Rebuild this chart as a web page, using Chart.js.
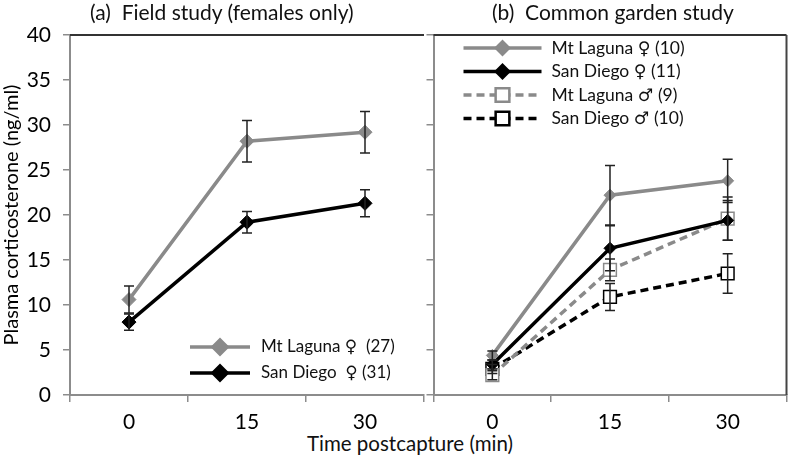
<!DOCTYPE html>
<html lang="en">
<head>
    <meta charset="UTF-8">
    <title>Plasma corticosterone</title>
    <script src="https://cdn.jsdelivr.net/npm/chart.js@4"></script>
    <style>
        body {
            margin: 0;
            background: #fff;
            width: 797px;
            height: 457px;
            position: relative;
            overflow: hidden;
            font-family: Lato, "DejaVu Sans", sans-serif;
        }
        .panel {
            position: absolute;
            top: 0;
            height: 430px;
        }
        #leftBox { left: 0; width: 432px; }
        #rightBox { left: 423px; width: 374px; }
        .heading {
            position: absolute;
            top: -1px;
            font-size: 21px;
            color: #111;
            white-space: nowrap;
        }
        #xTitle {
            position: absolute;
            top: 431px;
            left: 0;
            width: 820px;
            text-align: center;
            font-size: 20.5px;
            color: #111;
        }
    </style>
</head>
<body>
    <div id="leftBox" class="panel"><canvas id="leftChart"></canvas></div>
    <div id="rightBox" class="panel"><canvas id="rightChart"></canvas></div>
    <div class="heading" style="left:90px">(a)&nbsp; Field study (females only)</div>
    <div class="heading" style="left:492px">(b)&nbsp; Common garden study</div>
    <div id="xTitle">Time postcapture (min)</div>

    <script>
        // data
        var times = ['0', '15', '30'];
        var yTicks = [0, 5, 10, 15, 20, 25, 30, 35, 40];

        // (a) field study, females only
        var fieldLaguna = [10.6, 28.2, 29.2];
        var fieldLagunaErr = [1.5, 2.3, 2.3];
        var fieldSanDiego = [8.1, 19.2, 21.3];
        var fieldSanDiegoErr = [0.9, 1.2, 1.5];

        // (b) common garden study
        var gardenLagunaF = [4.4, 22.2, 23.8];
        var gardenLagunaFErr = [0.5, 3.3, 2.4];
        var gardenSanDiegoF = [3.4, 16.3, 19.4];
        var gardenSanDiegoFErr = [0.5, 2.5, 2.2];
        var gardenLagunaM = [2.2, 13.9, 19.6];
        var gardenLagunaMErr = [0.5, 1.2, 2.4];
        var gardenSanDiegoM = [2.9, 10.9, 13.5];
        var gardenSanDiegoMErr = [0.5, 1.5, 2.2];

        var GREY = '#8a8a8a';
        var BLACK = '#000000';
        var AXIS = '#8c8c8c';
        var FONT = 'Lato, "DejaVu Sans", sans-serif';

        // error bars drawn from each dataset's errors array
        var errorBars = {
            id: 'errorBars',
            afterDatasetsDraw: function(chart) {
                var ctx = chart.ctx;
                var yScale = chart.scales.y;
                ctx.save();
                chart.data.datasets.forEach(function(ds, i) {
                    var meta = chart.getDatasetMeta(i);
                    meta.data.forEach(function(pt, j) {
                        var err = ds.errors[j];
                        var top = yScale.getPixelForValue(ds.data[j] + err);
                        var bot = yScale.getPixelForValue(ds.data[j] - err);
                        ctx.strokeStyle = '#222';
                        ctx.lineWidth = 1.5;
                        ctx.beginPath();
                        ctx.moveTo(pt.x, top); ctx.lineTo(pt.x, bot);
                        ctx.moveTo(pt.x - 5, top); ctx.lineTo(pt.x + 5, top);
                        ctx.moveTo(pt.x - 5, bot); ctx.lineTo(pt.x + 5, bot);
                        ctx.stroke();
                    });
                });
                ctx.restore();
            }
        };

        // frame: dark top edge, right edge as given
        var frame = {
            id: 'frame',
            afterDraw: function(chart, args, opts) {
                var a = chart.chartArea;
                var ctx = chart.ctx;
                ctx.save();
                ctx.lineWidth = 2;
                ctx.strokeStyle = '#333';
                ctx.beginPath();
                ctx.moveTo(a.left, a.top); ctx.lineTo(a.right, a.top);
                ctx.stroke();
                if (opts.right) {
                    ctx.strokeStyle = '#444';
                    ctx.beginPath();
                    ctx.moveTo(a.right, a.top); ctx.lineTo(a.right, a.bottom);
                    ctx.stroke();
                }
                ctx.restore();
            }
        };

        // legend drawn inside the plot area
        var innerLegend = {
            id: 'innerLegend',
            afterDraw: function(chart, args, opts) {
                var a = chart.chartArea;
                var ctx = chart.ctx;
                ctx.save();
                chart.data.datasets.forEach(function(ds, i) {
                    var x0 = a.left + opts.x;
                    var y = a.top + opts.y + i * opts.row;
                    ctx.strokeStyle = ds.borderColor;
                    ctx.lineWidth = ds.borderWidth;
                    ctx.setLineDash(ds.borderDash || []);
                    ctx.beginPath();
                    ctx.moveTo(x0, y); ctx.lineTo(x0 + opts.len, y);
                    ctx.stroke();
                    ctx.setLineDash([]);
                    Chart.helpers.drawPoint(ctx, {
                        pointStyle: ds.pointStyle,
                        radius: ds.pointRadius,
                        borderWidth: ds.pointBorderWidth
                    }, x0 + opts.len / 2, y);
                    ctx.fillStyle = ds.pointBackgroundColor;
                    ctx.strokeStyle = ds.pointBorderColor;
                    ctx.lineWidth = ds.pointBorderWidth;
                    ctx.fill();
                    ctx.stroke();
                    ctx.fillStyle = '#111';
                    ctx.font = opts.font;
                    ctx.textBaseline = 'middle';
                    ctx.fillText(ds.label, x0 + opts.len + opts.gap, y);
                });
                ctx.restore();
            }
        };

        function series(label, data, errors, color, filled, dashed, radius) {
            return {
                label: label,
                data: data,
                errors: errors,
                borderColor: color,
                borderWidth: 3.5,
                borderDash: dashed ? [8, 5] : [],
                pointStyle: filled ? 'rectRot' : 'rect',
                pointRadius: radius,
                pointHoverRadius: radius,
                pointBackgroundColor: filled ? color : '#ffffff',
                pointBorderColor: color,
                pointBorderWidth: filled ? 1 : 1.5,
                fill: false,
                tension: 0
            };
        }

        function yAxis(showLabels, width) {
            return {
                min: 0,
                max: 40,
                afterBuildTicks: function(axis) {
                    axis.ticks = yTicks.map(function(v) { return { value: v }; });
                },
                afterFit: function(axis) { axis.width = width; },
                ticks: {
                    display: showLabels,
                    color: '#000',
                    padding: 12,
                    font: { family: FONT, size: 21 }
                },
                grid: { drawOnChartArea: false, drawTicks: true, tickLength: 7, color: AXIS, lineWidth: 1.5 },
                border: { display: true, color: AXIS, width: 2 },
                title: {
                    display: showLabels,
                    text: 'Plasma corticosterone (ng/ml)',
                    color: '#000',
                    font: { family: FONT, size: 20 },
                    padding: { top: 0, bottom: 0 }
                }
            };
        }

        function xAxis() {
            return {
                type: 'category',
                offset: true,
                afterFit: function(axis) { axis.height = 35; },
                ticks: {
                    color: '#000',
                    padding: 8,
                    font: { family: FONT, size: 21 }
                },
                grid: { offset: true, drawOnChartArea: false, drawTicks: true, tickLength: 7, color: AXIS, lineWidth: 1.5 },
                border: { display: true, color: AXIS, width: 2 }
            };
        }

        function baseOptions(yShow, yWidth, legendOpts, rightEdge) {
            return {
                responsive: true,
                maintainAspectRatio: false,
                animation: false,
                layout: { padding: { top: 35, right: 3, left: 0, bottom: 0 } },
                plugins: {
                    legend: { display: false },
                    tooltip: { enabled: false },
                    innerLegend: legendOpts,
                    frame: { right: rightEdge }
                },
                scales: { x: xAxis(), y: yAxis(yShow, yWidth) }
            };
        }

        new Chart(document.getElementById('leftChart'), {
            type: 'line',
            data: {
                labels: times,
                datasets: [
                    series('Mt Laguna \u2640  (27)', fieldLaguna, fieldLagunaErr, GREY, true, false, 7),
                    series('San Diego  \u2640 (31)', fieldSanDiego, fieldSanDiegoErr, BLACK, true, false, 7)
                ]
            },
            options: baseOptions(true, 70,
                { x: 120, y: 312, row: 26, len: 60, gap: 11, font: '17px ' + FONT }, false),
            plugins: [errorBars, frame, innerLegend]
        });

        new Chart(document.getElementById('rightChart'), {
            type: 'line',
            data: {
                labels: times,
                datasets: [
                    series('Mt Laguna \u2640 (10)', gardenLagunaF, gardenLagunaFErr, GREY, true, false, 6),
                    series('San Diego \u2640 (11)', gardenSanDiegoF, gardenSanDiegoFErr, BLACK, true, false, 6),
                    series('Mt Laguna \u2642 (9)', gardenLagunaM, gardenLagunaMErr, GREY, false, true, 9),
                    series('San Diego \u2642 (10)', gardenSanDiegoM, gardenSanDiegoMErr, BLACK, false, true, 9)
                ]
            },
            options: baseOptions(false, 7,
                { x: 30, y: 13, row: 23.5, len: 78, gap: 10, font: '17.5px ' + FONT }, true),
            plugins: [errorBars, frame, innerLegend]
        });
    </script>
</body>
</html>
